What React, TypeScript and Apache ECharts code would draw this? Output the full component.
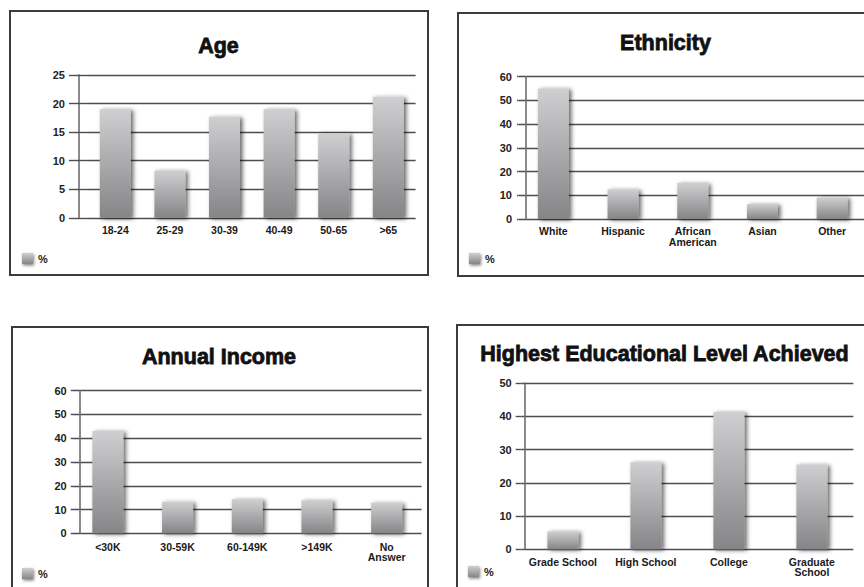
import React, { useEffect, useRef } from 'react';
import * as echarts from 'echarts';

// ---- data ----
const ageCategories = ['18-24', '25-29', '30-39', '40-49', '50-65', '>65'];
const ageValues = [19, 8.3, 17.7, 19, 14.8, 21.2];

const ethnicityCategories = ['White', 'Hispanic', 'African\nAmerican', 'Asian', 'Other'];
const ethnicityValues = [55, 12.5, 15.2, 6.3, 9.1];

const incomeCategories = ['<30K', '30-59K', '60-149K', '>149K', 'No\nAnswer'];
const incomeValues = [43, 13.3, 14.3, 13.9, 12.9];

const educationCategories = ['Grade School', 'High School', 'College', 'Graduate\nSchool'];
const educationValues = [5.4, 26.2, 41.3, 25.5];

const panelTitles = ['Age', 'Ethnicity', 'Annual Income', 'Highest Educational Level Achieved'];
const yMaxima = [25, 60, 60, 50];
const yIntervals = [5, 10, 10, 10];
const seriesName = '%';

const panelCategories = [ageCategories, ethnicityCategories, incomeCategories, educationCategories];
const panelValues = [ageValues, ethnicityValues, incomeValues, educationValues];

// ---- layout (page pixels) ----
const layouts = [
  { box: [10, 11, 418, 264], grid: { left: 88, top: 75, width: 327.6, height: 142.8 }, axisX: 79, tickStart: 69, labelRight: 65, catMargin: 7, title: [218.5, 45.5], legend: [22, 253] },
  { box: [458, 13, 420, 263], grid: { left: 518.5, top: 76.7, width: 348.5, height: 142.3 }, axisX: 526, tickStart: 517, labelRight: 512, catMargin: 7, title: [665.5, 42.5], legend: [469, 253] },
  { box: [12, 327, 416, 280], grid: { left: 73, top: 390.7, width: 348.5, height: 142.6 }, axisX: 79.3, tickStart: 70.7, labelRight: 66.7, catMargin: 8, title: [219, 357], legend: [22, 568] },
  { box: [457, 325, 420, 280], grid: { left: 521.4, top: 383, width: 332, height: 166.3 }, axisX: 524.5, tickStart: 515.7, labelRight: 511.7, catMargin: 7, title: [664.5, 354], legend: [468, 566] },
];

const FONT = '"Liberation Sans", Arial, Helvetica, sans-serif';
const gridLineColor = '#4e4e4e';
const barGradient = {
  type: 'linear', x: 0, y: 0, x2: 0, y2: 1,
  colorStops: [
    { offset: 0, color: '#cfcfd1' },
    { offset: 1, color: '#858587' },
  ],
};

export default function App() {
  const ref = useRef<HTMLDivElement>(null);

  useEffect(() => {
    if (!ref.current) return;
    const chart = echarts.init(ref.current, undefined, { renderer: 'svg' });

    const grids: any[] = [];
    const xAxes: any[] = [];
    const yAxes: any[] = [];
    const series: any[] = [];
    const legends: any[] = [];
    const graphics: any[] = [];

    layouts.forEach((L, k) => {
      grids.push({ ...L.grid, containLabel: false, outerBoundsMode: 'none' });
      xAxes.push({
        type: 'category',
        gridIndex: k,
        data: panelCategories[k],
        axisLine: { show: false },
        axisTick: { show: false },
        splitLine: { show: false },
        axisLabel: {
          interval: 0,
          hideOverlap: false,
          margin: L.catMargin,
          color: '#1a1a1a',
          fontFamily: FONT,
          fontWeight: 'bold',
          fontSize: 10.5,
          lineHeight: 10.5,
        },
      });
      // main value axis: labels, ticks, grid lines
      yAxes.push({
        type: 'value',
        gridIndex: k,
        position: 'left',
        min: 0,
        max: yMaxima[k],
        interval: yIntervals[k],
        axisLine: { show: false },
        axisTick: { show: true, length: Math.max(L.grid.left - L.tickStart, 0.5), lineStyle: { color: gridLineColor, width: 1.4 } },
        splitLine: { show: true, lineStyle: { color: gridLineColor, width: 1.4 } },
        axisLabel: {
          margin: L.grid.left - L.labelRight,
          color: '#222222',
          fontFamily: FONT,
          fontWeight: 'bold',
          fontSize: 11,
        },
      });
      // second value axis: only the vertical axis line
      yAxes.push({
        type: 'value',
        gridIndex: k,
        position: 'left',
        offset: L.grid.left - L.axisX,
        min: 0,
        max: yMaxima[k],
        interval: yIntervals[k],
        axisLine: { show: true, onZero: false, lineStyle: { color: '#6e6e6e', width: 1.6 } },
        axisTick: { show: false },
        splitLine: { show: false },
        axisLabel: { show: false },
      });
      series.push({
        type: 'bar',
        name: seriesName,
        xAxisIndex: k,
        yAxisIndex: 2 * k,
        data: panelValues[k],
        barWidth: 31,
        itemStyle: {
          color: barGradient,
          shadowColor: 'rgba(0,0,0,0.6)',
          shadowBlur: 4,
          shadowOffsetX: 2.5,
          shadowOffsetY: 1,
        },
      });
      legends.push({
        data: [seriesName],
        left: L.legend[0],
        top: L.legend[1],
        padding: 0,
        icon: 'rect',
        itemWidth: 11,
        itemHeight: 11,
        selectedMode: false,
        itemStyle: {
          color: barGradient,
          shadowColor: 'rgba(0,0,0,0.5)',
          shadowBlur: 3,
          shadowOffsetX: 1,
          shadowOffsetY: 1.5,
        },
        textStyle: { color: '#1a1a1a', fontFamily: FONT, fontWeight: 'bold', fontSize: 11 },
      });
      graphics.push({
        type: 'rect',
        z: -10,
        silent: true,
        shape: { x: L.box[0], y: L.box[1], width: L.box[2], height: L.box[3] },
        style: { fill: 'none', stroke: '#3c3c3c', lineWidth: 2 },
      });
      graphics.push({
        type: 'text',
        x: L.title[0],
        y: L.title[1],
        silent: true,
        style: {
          text: panelTitles[k],
          align: 'center',
          verticalAlign: 'middle',
          fill: '#111111',
          stroke: '#111111',
          lineWidth: 0.8,
          font: `bold 21.5px ${FONT}`,
          shadowColor: 'rgba(0,0,0,0.7)',
          shadowBlur: 4,
          shadowOffsetX: 2,
          shadowOffsetY: 2,
        },
      });
    });

    chart.setOption({
      animation: false,
      backgroundColor: '#ffffff',
      grid: grids,
      xAxis: xAxes,
      yAxis: yAxes,
      series,
      legend: legends,
      graphic: graphics,
    });

    return () => chart.dispose();
  }, []);

  return (
    <div style={{ position: 'fixed', left: 0, top: 0, width: 864, height: 587, overflow: 'hidden', background: '#fff' }}>
      <div ref={ref} style={{ width: 864, height: 587 }} />
    </div>
  );
}
